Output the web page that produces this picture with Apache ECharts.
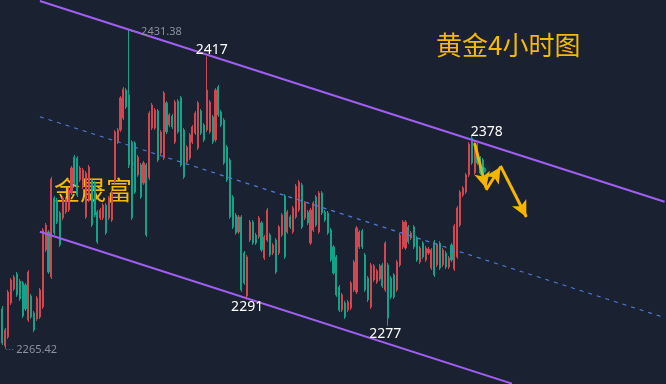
<!DOCTYPE html>
<html>
<head>
<meta charset="utf-8">
<title>黄金4小时图</title>
<script src="https://cdn.jsdelivr.net/npm/echarts@6/dist/echarts.min.js"></script>
<style>
    html, body { margin: 0; padding: 0; background: #1a2130; }
    #echartGold4h { width: 666px; height: 384px; }
</style>
</head>
<body>
<div id="echartGold4h"></div>
<script>
    "use strict";

    // hidden time slots, the empty ones on the right let the channel run to the edge
    var slotCount = 231;
    var categories = [];
    for (var s = 0; s < slotCount; s++) {
        categories.push(String(s));
    }

    // [open, close, low, high]
    var candles = [
        [2286.1, 2268.4, 2267.3, 2287.6], [2266.8, 2275.1, 2265.4, 2276.2], [2271.5, 2294.9, 2270.5, 2296.0],
        [2289.2, 2301.2, 2288.2, 2302.2], [2296.5, 2302.7, 2295.5, 2303.8], [2304.3, 2293.4, 2292.4, 2305.3],
        [2300.7, 2291.3, 2290.3, 2301.7], [2299.6, 2282.4, 2281.4, 2300.6], [2298.6, 2286.1, 2285.0, 2299.6],
        [2280.3, 2305.3, 2279.3, 2306.3], [2292.8, 2281.9, 2280.9, 2293.9], [2284.0, 2275.1, 2274.0, 2285.0],
        [2280.9, 2291.8, 2279.9, 2292.9], [2281.9, 2296.0, 2280.9, 2297.0], [2287.1, 2327.2, 2286.1, 2328.3],
        [2316.8, 2329.8, 2315.8, 2330.9], [2326.2, 2305.3, 2304.3, 2327.2], [2302.7, 2353.8, 2301.7, 2354.9],
        [2343.9, 2325.7, 2324.7, 2344.9], [2342.8, 2331.4, 2330.3, 2343.9], [2336.1, 2319.4, 2318.4, 2337.1],
        [2333.5, 2343.9, 2332.4, 2344.9], [2336.6, 2343.4, 2335.6, 2344.4], [2337.6, 2348.0, 2336.6, 2349.1],
        [2346.5, 2359.5, 2345.4, 2360.5], [2365.2, 2351.7, 2350.7, 2366.3], [2364.7, 2345.4, 2344.4, 2365.7],
        [2353.3, 2359.5, 2352.2, 2360.5], [2349.6, 2358.5, 2348.5, 2359.5], [2334.0, 2356.9, 2333.0, 2357.9],
        [2342.8, 2360.0, 2341.8, 2361.1], [2353.3, 2329.8, 2328.8, 2354.3], [2351.7, 2335.0, 2334.0, 2352.7],
        [2336.6, 2321.0, 2320.0, 2337.6], [2333.5, 2337.6, 2332.4, 2338.7], [2333.5, 2340.2, 2332.4, 2341.2],
        [2340.2, 2325.7, 2324.7, 2341.2], [2333.5, 2343.9, 2332.4, 2344.9], [2332.4, 2347.0, 2331.4, 2348.0],
        [2352.2, 2378.3, 2351.2, 2379.3], [2373.0, 2379.3, 2372.0, 2380.4], [2379.3, 2396.0, 2378.3, 2397.0],
        [2385.5, 2400.6, 2384.5, 2401.7], [2400.1, 2391.3, 2390.2, 2401.1], [2397.5, 2361.1, 2359.5, 2431.4],
        [2373.0, 2333.5, 2332.4, 2374.0], [2372.5, 2347.0, 2346.0, 2373.5], [2355.9, 2365.2, 2354.9, 2366.3],
        [2361.1, 2344.4, 2343.4, 2362.1], [2351.7, 2362.1, 2350.7, 2363.2], [2361.1, 2324.6, 2323.6, 2362.1],
        [2354.3, 2388.1, 2353.3, 2389.1], [2380.3, 2392.3, 2379.3, 2393.4], [2380.3, 2389.7, 2379.3, 2390.7],
        [2389.2, 2363.7, 2362.6, 2390.2], [2367.3, 2378.3, 2366.3, 2379.3], [2364.7, 2398.6, 2363.7, 2399.6],
        [2393.4, 2378.3, 2377.2, 2394.4], [2381.9, 2387.1, 2380.8, 2388.1], [2386.6, 2380.9, 2379.8, 2387.6],
        [2373.0, 2393.9, 2372.0, 2394.9], [2394.4, 2378.3, 2377.3, 2395.4], [2396.0, 2361.1, 2360.1, 2397.0],
        [2379.3, 2354.8, 2353.8, 2380.4], [2362.6, 2370.4, 2361.6, 2371.4], [2364.7, 2376.7, 2363.7, 2377.7],
        [2373.0, 2380.9, 2372.0, 2381.9], [2377.7, 2388.1, 2376.7, 2389.1], [2369.9, 2393.4, 2368.9, 2394.4],
        [2389.2, 2377.7, 2376.7, 2390.2], [2381.9, 2374.1, 2373.0, 2382.9], [2379.3, 2400.1, 2378.3, 2417.6],
        [2378.3, 2393.9, 2377.3, 2394.9], [2386.1, 2373.0, 2372.0, 2387.1], [2374.1, 2400.1, 2373.0, 2401.1],
        [2401.7, 2387.1, 2386.1, 2402.7], [2388.7, 2381.9, 2380.8, 2389.7], [2384.5, 2362.1, 2361.1, 2385.5],
        [2370.4, 2353.3, 2352.2, 2371.4], [2363.7, 2334.0, 2333.0, 2364.7], [2344.4, 2328.8, 2327.7, 2345.4],
        [2335.0, 2325.7, 2324.7, 2336.0], [2326.2, 2334.0, 2325.2, 2335.0], [2334.0, 2296.0, 2295.0, 2335.0],
        [2315.2, 2299.6, 2298.6, 2316.3], [2292.8, 2313.2, 2291.0, 2314.2], [2322.0, 2331.4, 2321.0, 2332.4],
        [2331.4, 2320.4, 2319.4, 2332.4], [2324.6, 2320.4, 2319.4, 2325.7], [2323.6, 2333.5, 2322.5, 2334.5],
        [2330.9, 2316.8, 2315.8, 2331.9], [2312.6, 2323.6, 2311.6, 2324.6], [2322.0, 2337.6, 2321.0, 2338.7],
        [2324.6, 2314.2, 2313.2, 2325.7], [2315.2, 2319.4, 2314.2, 2320.4], [2322.0, 2305.3, 2304.3, 2323.0],
        [2315.2, 2328.8, 2314.2, 2329.8], [2324.6, 2335.0, 2323.6, 2336.0], [2344.9, 2313.2, 2312.2, 2345.9],
        [2326.2, 2336.6, 2325.2, 2337.6], [2334.0, 2328.8, 2327.7, 2335.0], [2326.2, 2338.7, 2325.2, 2339.7],
        [2334.0, 2350.1, 2333.0, 2351.2], [2337.6, 2352.2, 2336.6, 2353.3], [2350.7, 2328.8, 2327.7, 2351.7],
        [2333.5, 2341.3, 2332.4, 2342.3], [2336.6, 2330.9, 2329.8, 2337.6], [2320.4, 2337.6, 2319.4, 2338.7],
        [2327.2, 2341.3, 2326.2, 2342.3], [2344.4, 2329.8, 2328.8, 2345.4], [2326.2, 2346.5, 2325.2, 2347.5],
        [2346.5, 2336.1, 2335.0, 2347.5], [2336.6, 2332.4, 2331.4, 2337.6], [2336.1, 2325.7, 2324.7, 2337.1],
        [2327.2, 2311.6, 2310.6, 2328.3], [2318.4, 2304.8, 2303.8, 2319.4], [2313.2, 2293.4, 2292.4, 2314.2],
        [2297.5, 2285.5, 2284.5, 2298.6], [2285.5, 2293.4, 2284.5, 2294.4], [2289.2, 2281.9, 2280.9, 2290.3],
        [2285.5, 2289.7, 2284.5, 2290.8], [2286.6, 2299.6, 2285.5, 2300.6], [2296.0, 2310.6, 2295.0, 2311.6],
        [2294.9, 2328.3, 2293.9, 2329.3], [2318.4, 2326.2, 2317.3, 2327.2], [2326.7, 2318.4, 2317.3, 2327.7],
        [2314.2, 2296.0, 2295.0, 2315.2], [2302.2, 2290.8, 2289.7, 2303.2], [2287.1, 2309.0, 2286.1, 2310.1],
        [2301.2, 2308.5, 2300.2, 2309.5], [2300.1, 2305.9, 2299.1, 2306.9], [2301.7, 2308.5, 2300.7, 2309.5],
        [2309.0, 2298.0, 2297.0, 2310.1], [2296.0, 2320.4, 2295.0, 2321.4], [2309.0, 2281.4, 2277.3, 2310.1],
        [2302.2, 2292.3, 2291.3, 2303.2], [2303.8, 2292.3, 2291.3, 2304.8], [2296.0, 2310.6, 2295.0, 2311.6],
        [2309.0, 2324.6, 2308.0, 2325.7], [2318.4, 2331.4, 2317.3, 2332.4], [2317.8, 2331.4, 2316.8, 2332.4],
        [2328.8, 2321.0, 2320.0, 2329.8], [2323.0, 2325.7, 2322.0, 2326.7], [2328.8, 2318.4, 2317.3, 2329.8],
        [2323.0, 2311.6, 2310.6, 2324.0], [2310.6, 2317.8, 2309.5, 2318.9], [2320.4, 2313.2, 2312.2, 2321.4],
        [2311.6, 2317.8, 2310.6, 2318.9], [2315.2, 2317.3, 2314.2, 2318.4], [2307.4, 2316.8, 2306.4, 2317.8],
        [2321.0, 2303.8, 2302.7, 2322.0], [2309.0, 2319.4, 2308.0, 2320.4], [2320.4, 2307.4, 2306.4, 2321.4],
        [2309.0, 2316.8, 2308.0, 2317.8], [2315.2, 2307.9, 2306.9, 2316.3], [2307.9, 2312.6, 2306.9, 2313.7],
        [2319.4, 2311.6, 2310.6, 2320.4], [2306.9, 2329.3, 2305.9, 2330.3], [2313.2, 2338.7, 2312.2, 2339.7],
        [2329.8, 2347.0, 2328.8, 2348.0], [2345.4, 2349.1, 2344.4, 2350.1], [2347.0, 2355.9, 2346.0, 2356.9],
        [2355.9, 2372.0, 2354.9, 2373.0], [2375.1, 2362.1, 2361.1, 2376.8], [2356.9, 2372.5, 2355.9, 2373.5],
        [2371.5, 2362.1, 2361.1, 2372.5], [2364.7, 2356.9, 2355.9, 2365.7], [2363.7, 2358.5, 2357.5, 2364.7]
    ];

    // channel: [slot, price] at both ends (the lower one ends where it leaves the chart)
    var upperLine = [[13, 2446.5], [230, 2341.9]];
    var middleLine = [[13, 2386.2], [230, 2281.6]];
    var lowerLine = [[13, 2326.3], [177, 2247.2]];

    // yellow forecast arrows
    var arrows = [
        [[164, 2372.5], [168, 2349.0]],
        [[168, 2348.0], [173, 2360.0]],
        [[173, 2360.6], [182, 2334.0]]
    ];

    // swing labels: slot, price, text
    var swingLabels = [
        [71, 2417.6, '2417', 'top', [5, 1]],
        [85, 2291.0, '2291', 'bottom', [0, 0]],
        [134, 2277.3, '2277', 'bottom', [-3, 1]],
        [163, 2376.8, '2378', 'top', [15, 4]]
    ];
    var extremeLabels = [
        [44, 2431.4, '2431.38', [0, 2]],
        [1, 2265.4, '2265.42', [-1, 1]]
    ];

    var upColor = '#d4464f';
    var downColor = '#12a388';

    var markLines = [];
    function channel(pts, color, width, type) {
        markLines.push([
            { coord: pts[0], symbol: 'none', lineStyle: { color: color, width: width, type: type } },
            { coord: pts[1], symbol: 'none' }
        ]);
    }
    channel(upperLine, '#a05ff2', 2, 'solid');
    channel(lowerLine, '#a05ff2', 2, 'solid');
    channel(middleLine, '#4f7be0', 1.2, [4, 5]);
    arrows.forEach(function (a) {
        markLines.push([
            { coord: a[0], symbol: 'none', lineStyle: { color: '#f7b500', width: 3, type: 'solid' } },
            { coord: a[1], symbol: 'arrow', symbolSize: [12, 16] }
        ]);
    });

    var markPoints = [];
    swingLabels.forEach(function (m) {
        markPoints.push({
            coord: [m[0], m[1]],
            symbol: 'circle',
            symbolSize: 0,
            label: {
                show: true,
                position: m[3],
                distance: 0,
                offset: m[4],
                formatter: m[2],
                color: '#ffffff',
                fontSize: 14,
                fontFamily: 'Noto Sans'
            }
        });
    });
    extremeLabels.forEach(function (m) {
        markPoints.push({
            coord: [m[0], m[1]],
            symbol: 'circle',
            symbolSize: 0,
            label: {
                show: true,
                position: 'right',
                distance: 1,
                offset: m[3],
                formatter: '{d|···}{v|' + m[2] + '}',
                rich: {
                    d: { color: '#7d838f', fontSize: 9, padding: [0, 2, 0, 0] },
                    v: { color: '#8c929c', fontSize: 11, fontFamily: 'Noto Sans' }
                }
            }
        });
    });
    // last price glow
    var last = candles[candles.length - 1];
    markPoints.push({
        coord: [candles.length - 1, last[1]],
        symbol: 'circle',
        symbolSize: 6,
        itemStyle: { color: 'rgba(40,220,180,0.55)', shadowBlur: 10, shadowColor: '#22d6b0' },
        label: { show: false }
    });

    var chart = echarts.init(document.getElementById('echartGold4h'));
    var option = {
        animation: false,
        backgroundColor: '#1a2130',
        grid: {
            top: 0,
            right: -4,
            bottom: 0,
            left: 1
        },
        xAxis: {
            type: 'category',
            data: categories,
            show: false
        },
        yAxis: {
            type: 'value',
            min: 2247,
            max: 2447,
            show: false,
            splitLine: { show: false }
        },
        graphic: [{
            type: 'text',
            left: 436,
            top: 32,
            style: {
                text: '黄金4小时图',
                fill: '#f5b90a',
                fontSize: 26,
                fontFamily: '"Noto Sans CJK SC"'
            }
        }, {
            type: 'text',
            left: 54,
            top: 177,
            style: {
                text: '金晟富',
                fill: '#f5b90a',
                fontSize: 26,
                fontFamily: '"Noto Sans CJK SC"'
            }
        }],
        series: [{
            name: 'XAUUSD 4H',
            type: 'candlestick',
            data: candles,
            barWidth: 1.6,
            itemStyle: {
                color: upColor,
                color0: downColor,
                borderColor: upColor,
                borderColor0: downColor,
                borderWidth: 1
            },
            markLine: {
                silent: true,
                symbol: 'none',
                label: { show: false },
                emphasis: { disabled: true },
                data: markLines
            },
            markPoint: {
                silent: true,
                data: markPoints
            }
        }]
    };
    chart.setOption(option);
</script>
</body>
</html>
